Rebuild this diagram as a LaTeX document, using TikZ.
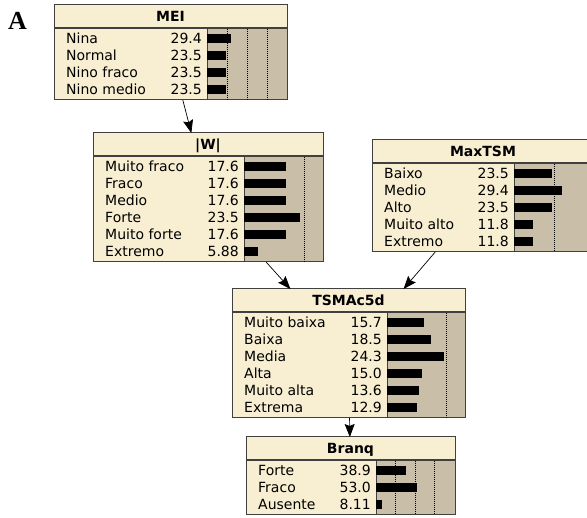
\documentclass[tikz,border=0pt]{standalone}
\usepackage{fontspec}
\setmainfont{DejaVu Sans}
\newfontfamily\panelfont{Liberation Serif}
\usetikzlibrary{arrows.meta,fit}
\definecolor{nodecream}{RGB}{248,239,210}
\definecolor{bararea}{RGB}{201,191,168}
\definecolor{framegray}{RGB}{64,64,64}
\tikzset{
  netframe/.style={draw=framegray,line width=1pt,inner sep=0pt,outer sep=0pt},
  titletext/.style={font=\fontsize{14}{16}\selectfont\bfseries,inner sep=0pt,anchor=base},
  rowtext/.style={font=\fontsize{14}{16}\selectfont,inner sep=0pt},
  gridline/.style={line width=0.8pt,dash pattern=on 1pt off 1pt},
  netarrow/.style={line width=0.7pt,-{Stealth[length=13pt,width=10pt,inset=2pt]}},
  panellabel/.style={font=\panelfont\fontsize{26}{28}\selectfont\bfseries,inner sep=0pt}
}
%% box: name, left, top, right, rows, bar left, title
\newcommand{\netnode}[7]{%
  \pgfmathsetmacro{\nbot}{#3+23+17*#5+4}
  \coordinate (#1-nw) at (#2,#3);
  \coordinate (#1-se) at (#4,\nbot);
  \fill[nodecream] (#1-nw) rectangle (#1-se);
  \fill[bararea] (#6,#3+23) rectangle (#1-se);
  \draw[framegray,line width=0.8pt] (#6,#3+23) -- (#6,\nbot);
  \draw[framegray,line width=1.3pt] (#2,#3+23) -- (#4,#3+23);
  \node[netframe,fit=(#1-nw)(#1-se)] (#1) {};
  \node[titletext] (#1-title) at ({(#2+#4)/2},#3+17) {#7};
}
%% rows: name, left, top, bar left, px per percent, grid percents, label/value list
\newcommand{\netrows}[7]{%
  \foreach \p in {#6} {
    \draw[gridline] (#4+\p*#5,#3+24) -- (#4+\p*#5,\nbot);
  }
  \foreach \lab/\val [count=\i] in {#7} {
    \pgfmathsetmacro{\rowy}{#3+23+2+17*(\i-0.5)}
    \node[rowtext,anchor=base west] (#1-lab\i) at (#2+12,\rowy+5) {\lab};
    \node[rowtext,anchor=base east] (#1-val\i) at (#4-5,\rowy+5) {\val};
    \fill (#4,\rowy-4.5) rectangle (#4+\val*#5,\rowy+4.5);
  }
}
\begin{document}
\begin{tikzpicture}[x=1pt,y=-1pt]
  \useasboundingbox (0,0) rectangle (587,518);
  \clip (0,0) rectangle (587,518);
  \node[panellabel] (panelA) at (17.5,21) {A};
  %% MEI
  \netnode{MEI}{54}{5}{287}{4}{207}{MEI}
  \netrows{MEI}{54}{5}{207}{0.8}{25,50,75}{Nina/29.4,Normal/23.5,Nino fraco/23.5,Nino medio/23.5}
  %% |W|
  \netnode{W}{93}{133}{323}{6}{244}{|W|}
  \netrows{W}{93}{133}{244}{2.4}{25}{Muito fraco/17.6,Fraco/17.6,Medio/17.6,Forte/23.5,Muito forte/17.6,Extremo/5.88}
  %% MaxTSM
  \netnode{MaxTSM}{372}{140}{594}{5}{514}{MaxTSM}
  \netrows{MaxTSM}{372}{140}{514}{1.63}{25}{Baixo/23.5,Medio/29.4,Alto/23.5,Muito alto/11.8,Extremo/11.8}
  %% TSMAc5d
  \netnode{TSMAc5d}{232}{289}{465}{6}{387}{TSMAc5d}
  \netrows{TSMAc5d}{232}{289}{387}{2.36}{25}{Muito baixa/15.7,Baixa/18.5,Media/24.3,Alta/15.0,Muito alta/13.6,Extrema/12.9}
  %% Branq
  \netnode{Branq}{246}{437}{455}{3}{376}{Branq}
  \netrows{Branq}{246}{437}{376}{0.78}{25,50,75}{Forte/38.9,Fraco/53.0,Ausente/8.11}
  %% links
  \draw[netarrow] (MEI) -- (W);
  \draw[netarrow] (W) -- (TSMAc5d);
  \draw[netarrow] (MaxTSM) -- (TSMAc5d);
  \draw[netarrow] (TSMAc5d) -- (Branq);
\end{tikzpicture}
\end{document}
